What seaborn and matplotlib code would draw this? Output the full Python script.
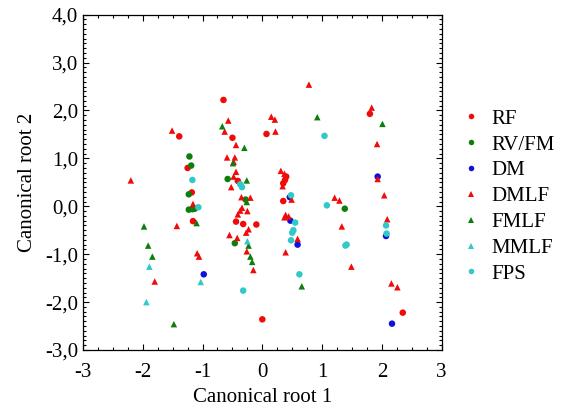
import matplotlib
matplotlib.use("Agg")
import matplotlib.pyplot as plt
import matplotlib.ticker as mticker
import seaborn as sns
import pandas as pd

# group names, in legend order
groups = ["RF", "RV/FM", "DM", "DMLF", "FMLF", "MMLF", "FPS"]

# canonical scores (root 1, root 2)
rf_x = [-0.65, -1.39, -1.25, -1.18, -1.16, -0.50, -0.41, -0.44, -0.32, -0.10,
        0.07, 0.40, 0.38, 0.35, 0.35, 0.00, 1.80, 2.35]
rf_y = [2.22, 1.46, 0.80, 0.29, -0.31, 1.43, 0.53, -0.32, -0.37, -0.38,
        1.51, 0.62, 0.55, 0.48, 0.11, -2.36, 1.93, -2.22]

rvfm_x = [-1.22, -1.19, -1.23, -1.23, -1.17, -1.13, -0.58, -0.28, -0.46, 1.38]
rvfm_y = [1.04, 0.85, 0.25, -0.07, -0.06, -0.05, 0.57, 0.14, -0.77, -0.05]

dm_x = [-0.98, 0.46, 0.47, 0.59, 1.93, 2.07, 2.17]
dm_y = [-1.42, 0.19, -0.30, -0.80, 0.62, -0.62, -2.45]

dmlf_x = [-1.51, -2.20, -1.16, -1.43, -1.09, -1.06, -1.80, -0.57, -0.63, -0.44,
          -0.59, -0.46, -0.48, -0.44, -0.48, -0.52, -0.35, -0.20, -0.34, -0.37,
          -0.41, -0.25, -0.23, -0.27, -0.55, -0.42, -0.26, -0.15, 0.78, 0.15,
          0.21, 0.22, 0.31, 0.37, 0.34, 0.49, 0.39, 0.44, 0.37, 0.59,
          0.39, 1.83, 1.92, 1.93, 2.04, 1.21, 1.29, 2.09, 1.33, 1.49,
          2.16, 2.26]
dmlf_y = [1.58, 0.54, 0.05, -0.41, -0.98, -1.05, -1.57, 1.79, 1.56, 1.28,
          1.02, 1.02, 0.93, 0.72, 0.62, 0.40, 0.19, 0.18, -0.03, -0.09,
          -0.17, -0.10, -0.48, -0.55, -0.60, -0.66, -0.94, -1.33, 2.54, 1.87,
          1.81, 1.56, 0.74, 0.68, 0.42, 0.14, -0.18, -0.21, -0.23, -0.68,
          -0.96, 2.06, 1.30, 0.57, 0.23, 0.18, 0.12, -0.27, -0.42, -1.26,
          -1.61, -1.69]

fmlf_x = [-1.10, -1.98, -1.91, -1.84, -1.48, -0.67, -0.30, -0.49, -0.26, -0.26,
          -0.23, -0.20, -0.17, 0.92, 0.66, 2.01]
fmlf_y = [-0.35, -0.42, -0.82, -1.05, -2.46, 1.67, 1.22, 0.90, 0.54, 0.09,
          -0.82, -1.05, -1.16, 1.86, -1.67, 1.72]

mmlf_x = [-1.89, -1.94, -1.03, -0.25]
mmlf_y = [-1.26, -2.00, -1.58, -0.73]

fps_x = [-1.17, -1.07, -0.37, -0.34, -0.32, 1.04, 0.48, 0.55, 0.52, 0.50,
         0.48, 0.62, 1.08, 2.07, 2.08, 1.41, 1.39]
fps_y = [0.55, -0.02, 0.46, 0.40, -1.76, 1.47, 0.23, -0.34, -0.50, -0.55,
         -0.71, -1.42, 0.02, -0.40, -0.57, -0.80, -0.82]

xs = [rf_x, rvfm_x, dm_x, dmlf_x, fmlf_x, mmlf_x, fps_x]
ys = [rf_y, rvfm_y, dm_y, dmlf_y, fmlf_y, mmlf_y, fps_y]

frames = []
for g, x, y in zip(groups, xs, ys):
    frames.append(pd.DataFrame({"root1": x, "root2": y, "group": g}))
df = pd.concat(frames, ignore_index=True)

palette = {"RF": "#f00a0a", "RV/FM": "#0c7e0c", "DM": "#1010d8",
           "DMLF": "#f00a0a", "FMLF": "#0c7e0c", "MMLF": "#30c8c8",
           "FPS": "#30c8c8"}
markers = {"RF": "o", "RV/FM": "o", "DM": "o", "DMLF": "^",
           "FMLF": "^", "MMLF": "^", "FPS": "o"}

plt.rcParams["font.family"] = ["Liberation Serif", "DejaVu Serif"]
plt.rcParams["axes.unicode_minus"] = False

fig = plt.figure(figsize=(5.71, 4.13), dpi=100)
ax = fig.add_axes([0.1454, 0.1525, 0.628, 0.812])

sns.scatterplot(data=df, x="root1", y="root2", hue="group", style="group",
                hue_order=groups, style_order=groups, palette=palette,
                markers=markers, s=22, linewidth=0, ax=ax)

ax.set_xlim(-3, 3)
ax.set_ylim(-3, 4)
ax.xaxis.set_major_locator(mticker.MultipleLocator(1))
ax.xaxis.set_minor_locator(mticker.MultipleLocator(0.25))
ax.yaxis.set_major_locator(mticker.MultipleLocator(1))
ax.yaxis.set_minor_locator(mticker.MultipleLocator(0.1))
ax.xaxis.set_major_formatter(mticker.FuncFormatter(lambda v, p: f"{v:.0f}"))
ax.yaxis.set_major_formatter(
    mticker.FuncFormatter(lambda v, p: f"{v:.1f}".replace(".", ",")))
ax.tick_params(which="both", direction="in", top=True, right=True,
               labelsize=15, width=0.8)
ax.tick_params(which="major", length=4)
ax.tick_params(which="minor", length=2.5)
ax.tick_params(axis="x", which="major", pad=9)
for sp in ax.spines.values():
    sp.set_linewidth(0.9)

ax.set_xlabel("Canonical root 1", fontsize=15, labelpad=5)
ax.set_ylabel("Canonical root 2", fontsize=15, labelpad=6)

sns.move_legend(ax, "center left", bbox_to_anchor=(1.0, 0.458), title=None,
                frameon=False, fontsize=15, handlelength=1.0,
                handletextpad=0.5, labelspacing=0.3, markerscale=0.85)

fig.savefig("out.png", dpi=100)
